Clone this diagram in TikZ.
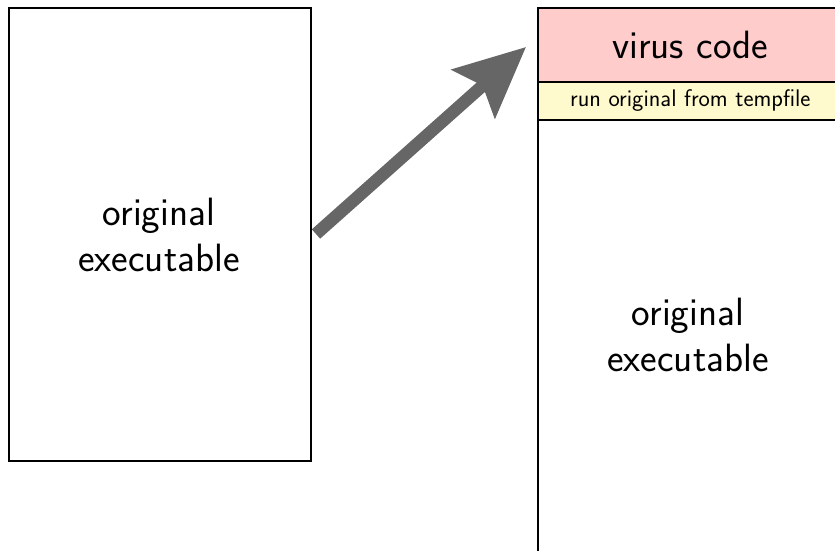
\documentclass[tikz,border=0pt]{standalone}
\usetikzlibrary{arrows.meta}
\definecolor{viruspink}{RGB}{255,204,204}
\definecolor{runyellow}{RGB}{255,250,205}
\definecolor{arrowgray}{RGB}{102,102,102}
\begin{document}
\begin{tikzpicture}[x=1pt,y=-1pt,
  box/.style={draw=black, line width=1.6pt, inner sep=0pt, anchor=north west},
  bigtext/.style={font=\sffamily\fontsize{39.5}{46}\selectfont, align=center},
  smalltext/.style={font=\sffamily\fontsize{24}{28}\selectfont},
  bigarrow/.style={draw=arrowgray, line width=12.5pt,
    -{Stealth[length=70pt, width=64pt, inset=12pt]}}]
\useasboundingbox (0,0) rectangle (835,550);
\clip (0,0) rectangle (835,550);
% left box
\node[box, minimum width=302pt, minimum height=453pt] (orig) at (8,7) {};
\node[bigtext] (origtext) at (159,235) {original\\executable};
% right box
\node[box, minimum width=305pt, minimum height=560pt] (infected) at (537,7) {};
\node[box, fill=viruspink, minimum width=305pt, minimum height=74pt] (virus) at (537,7) {};
\node[bigtext, anchor=center] (virustext) at (virus.center) {virus code};
\node[box, fill=runyellow, minimum width=305pt, minimum height=38pt] (run) at (537,81) {};
\node[smalltext] (runtext) at (run.center) {run original from tempfile};
\node[bigtext] (infectedtext) at (688,335) {original\\executable};
% arrow
\coordinate (tail) at (316,234);
\coordinate (tip) at (526,47);
\draw[bigarrow] (tail) -- (tip);
\end{tikzpicture}
\end{document}
